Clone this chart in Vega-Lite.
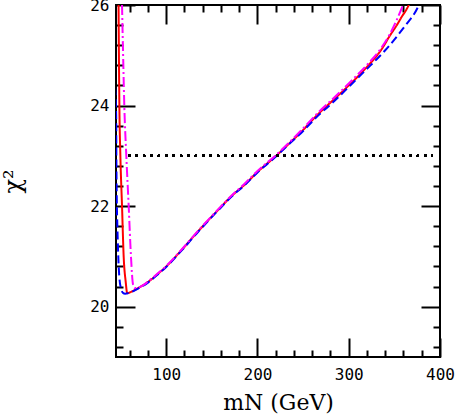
{
  "$schema": "https://vega.github.io/schema/vega-lite/v6.json",
  "width": 324,
  "height": 352,
  "autosize": {"type": "none"},
  "padding": {"left": 116, "top": 5, "right": 17, "bottom": 58},
  "config": {
    "view": {"stroke": "black", "strokeWidth": 2},
    "axis": {
      "domain": false,
      "grid": false,
      "tickColor": "black",
      "tickWidth": 2,
      "labelColor": "black",
      "labelFont": "DejaVu Sans Mono",
      "labelFontSize": 16,
      "titleFont": "DejaVu Serif",
      "titleFontSize": 22,
      "titleFontWeight": "normal",
      "titleColor": "black"
    }
  },
  "data": {
    "values": [
      {"s": "red", "i": 1, "x": 47.8, "y": 26.0},
      {"s": "red", "i": 2, "x": 48.2, "y": 25.0},
      {"s": "red", "i": 3, "x": 48.7, "y": 24.0},
      {"s": "red", "i": 4, "x": 49.8, "y": 23.0},
      {"s": "red", "i": 5, "x": 51.6, "y": 22.0},
      {"s": "red", "i": 6, "x": 53.4, "y": 21.0},
      {"s": "red", "i": 7, "x": 55.6, "y": 20.5},
      {"s": "red", "i": 8, "x": 57.3, "y": 20.27},
      {"s": "red", "i": 9, "x": 62.0, "y": 20.3},
      {"s": "red", "i": 10, "x": 70.0, "y": 20.38},
      {"s": "red", "i": 11, "x": 80.0, "y": 20.49},
      {"s": "red", "i": 12, "x": 90.0, "y": 20.64},
      {"s": "red", "i": 13, "x": 100.0, "y": 20.8},
      {"s": "red", "i": 14, "x": 117.0, "y": 21.13},
      {"s": "red", "i": 15, "x": 135.0, "y": 21.5},
      {"s": "red", "i": 16, "x": 154.0, "y": 21.87},
      {"s": "red", "i": 17, "x": 174.0, "y": 22.24},
      {"s": "red", "i": 18, "x": 185.0, "y": 22.41},
      {"s": "red", "i": 19, "x": 200.0, "y": 22.68},
      {"s": "red", "i": 20, "x": 220.5, "y": 23.0},
      {"s": "red", "i": 21, "x": 235.0, "y": 23.25},
      {"s": "red", "i": 22, "x": 247.0, "y": 23.46},
      {"s": "red", "i": 23, "x": 267.0, "y": 23.84},
      {"s": "red", "i": 24, "x": 283.0, "y": 24.11},
      {"s": "red", "i": 25, "x": 300.0, "y": 24.4},
      {"s": "red", "i": 26, "x": 320.0, "y": 24.77},
      {"s": "red", "i": 27, "x": 336.0, "y": 25.12},
      {"s": "red", "i": 28, "x": 345.4, "y": 25.4},
      {"s": "red", "i": 29, "x": 352.7, "y": 25.6},
      {"s": "red", "i": 30, "x": 358.2, "y": 25.77},
      {"s": "red", "i": 31, "x": 362.9, "y": 25.9},
      {"s": "red", "i": 32, "x": 366.6, "y": 26.03},

      {"s": "blue", "i": 1, "x": 43.0, "y": 24.6},
      {"s": "blue", "i": 2, "x": 45.2, "y": 23.8},
      {"s": "blue", "i": 3, "x": 45.4, "y": 23.0},
      {"s": "blue", "i": 4, "x": 45.8, "y": 22.2},
      {"s": "blue", "i": 5, "x": 46.5, "y": 21.6},
      {"s": "blue", "i": 6, "x": 47.5, "y": 21.0},
      {"s": "blue", "i": 7, "x": 48.6, "y": 20.6},
      {"s": "blue", "i": 8, "x": 50.5, "y": 20.36},
      {"s": "blue", "i": 9, "x": 52.5, "y": 20.28},
      {"s": "blue", "i": 10, "x": 55.0, "y": 20.26},
      {"s": "blue", "i": 11, "x": 60.0, "y": 20.28},
      {"s": "blue", "i": 12, "x": 70.0, "y": 20.37},
      {"s": "blue", "i": 13, "x": 80.0, "y": 20.48},
      {"s": "blue", "i": 14, "x": 90.0, "y": 20.63},
      {"s": "blue", "i": 15, "x": 100.0, "y": 20.79},
      {"s": "blue", "i": 16, "x": 117.0, "y": 21.12},
      {"s": "blue", "i": 17, "x": 135.0, "y": 21.49},
      {"s": "blue", "i": 18, "x": 154.0, "y": 21.86},
      {"s": "blue", "i": 19, "x": 174.0, "y": 22.23},
      {"s": "blue", "i": 20, "x": 185.0, "y": 22.4},
      {"s": "blue", "i": 21, "x": 200.0, "y": 22.67},
      {"s": "blue", "i": 22, "x": 220.5, "y": 22.99},
      {"s": "blue", "i": 23, "x": 235.0, "y": 23.24},
      {"s": "blue", "i": 24, "x": 247.0, "y": 23.44},
      {"s": "blue", "i": 25, "x": 267.0, "y": 23.81},
      {"s": "blue", "i": 26, "x": 283.0, "y": 24.07},
      {"s": "blue", "i": 27, "x": 300.0, "y": 24.37},
      {"s": "blue", "i": 28, "x": 320.0, "y": 24.73},
      {"s": "blue", "i": 29, "x": 330.0, "y": 24.91},
      {"s": "blue", "i": 30, "x": 340.0, "y": 25.1},
      {"s": "blue", "i": 31, "x": 350.0, "y": 25.31},
      {"s": "blue", "i": 32, "x": 356.0, "y": 25.45},
      {"s": "blue", "i": 33, "x": 365.0, "y": 25.66},
      {"s": "blue", "i": 34, "x": 372.0, "y": 25.83},
      {"s": "blue", "i": 35, "x": 377.0, "y": 26.0},

      {"s": "magenta", "i": 1, "x": 51.6, "y": 26.0},
      {"s": "magenta", "i": 2, "x": 52.8, "y": 25.0},
      {"s": "magenta", "i": 3, "x": 54.1, "y": 24.0},
      {"s": "magenta", "i": 4, "x": 56.3, "y": 23.0},
      {"s": "magenta", "i": 5, "x": 58.9, "y": 22.0},
      {"s": "magenta", "i": 6, "x": 61.4, "y": 21.0},
      {"s": "magenta", "i": 7, "x": 63.6, "y": 20.45},
      {"s": "magenta", "i": 8, "x": 66.0, "y": 20.37},
      {"s": "magenta", "i": 9, "x": 75.0, "y": 20.43},
      {"s": "magenta", "i": 10, "x": 80.0, "y": 20.5},
      {"s": "magenta", "i": 11, "x": 90.0, "y": 20.65},
      {"s": "magenta", "i": 12, "x": 100.0, "y": 20.81},
      {"s": "magenta", "i": 13, "x": 117.0, "y": 21.14},
      {"s": "magenta", "i": 14, "x": 135.0, "y": 21.51},
      {"s": "magenta", "i": 15, "x": 154.0, "y": 21.88},
      {"s": "magenta", "i": 16, "x": 174.0, "y": 22.25},
      {"s": "magenta", "i": 17, "x": 185.0, "y": 22.43},
      {"s": "magenta", "i": 18, "x": 200.0, "y": 22.7},
      {"s": "magenta", "i": 19, "x": 220.5, "y": 23.02},
      {"s": "magenta", "i": 20, "x": 235.0, "y": 23.27},
      {"s": "magenta", "i": 21, "x": 247.0, "y": 23.49},
      {"s": "magenta", "i": 22, "x": 267.0, "y": 23.87},
      {"s": "magenta", "i": 23, "x": 283.0, "y": 24.14},
      {"s": "magenta", "i": 24, "x": 300.0, "y": 24.44},
      {"s": "magenta", "i": 25, "x": 320.0, "y": 24.81},
      {"s": "magenta", "i": 26, "x": 335.0, "y": 25.13},
      {"s": "magenta", "i": 27, "x": 345.0, "y": 25.42},
      {"s": "magenta", "i": 28, "x": 353.0, "y": 25.72},
      {"s": "magenta", "i": 29, "x": 359.5, "y": 26.0}
    ]
  },
  "resolve": {"axis": {"x": "independent", "y": "independent"}},
  "layer": [
    {
      "mark": {"type": "line", "strokeWidth": 2, "clip": true, "interpolate": "monotone"},
      "encoding": {
        "x": {
          "field": "x", "type": "quantitative",
          "scale": {"domain": [45, 400], "nice": false, "zero": false},
          "axis": {
            "orient": "bottom",
            "title": "mN (GeV)",
            "values": [60, 80, 100, 120, 140, 160, 180, 200, 220, 240, 260, 280, 300, 320, 340, 360, 380, 400],
            "tickSize": {"condition": {"test": "datum.value % 100 === 0", "value": -19}, "value": -7},
            "labelExpr": "datum.value % 100 === 0 ? datum.label : ''",
            "labelPadding": 28,
            "labelFlush": false,
            "labelOverlap": false,
            "titlePadding": -2
          }
        },
        "y": {
          "field": "y", "type": "quantitative",
          "scale": {"domain": [19, 26], "nice": false, "zero": false},
          "axis": {
            "orient": "left",
            "title": "χ²",
            "values": [19.2, 19.6, 20, 20.4, 20.8, 21.2, 21.6, 22, 22.4, 22.8, 23.2, 23.6, 24, 24.4, 24.8, 25.2, 25.6, 26],
            "tickSize": {"condition": {"test": "abs(datum.value - round(datum.value / 2) * 2) < 0.01", "value": -19}, "value": -7},
            "labelExpr": "abs(datum.value - round(datum.value / 2) * 2) < 0.01 ? format(datum.value, 'd') : ''",
            "labelPadding": 26,
            "labelFlush": false,
            "labelOverlap": false,
            "titleFontSize": 24,
            "titlePadding": 64
          }
        },
        "order": {"field": "i", "type": "quantitative"},
        "color": {
          "field": "s", "type": "nominal", "legend": null,
          "scale": {"domain": ["red", "blue", "magenta"], "range": ["#ff0000", "#0000ff", "#ff00ff"]}
        },
        "strokeDash": {
          "field": "s", "type": "nominal", "legend": null,
          "scale": {"domain": ["red", "blue", "magenta"], "range": [[1, 0], [8, 4], [10, 3, 2, 3]]}
        }
      }
    },
    {
      "mark": {"type": "rule", "color": "black", "strokeWidth": 2, "strokeDash": [2, 5.4]},
      "encoding": {
        "x": {
          "datum": 58.5, "type": "quantitative",
          "axis": {
            "orient": "top",
            "title": null,
            "labels": false,
            "values": [60, 80, 100, 120, 140, 160, 180, 200, 220, 240, 260, 280, 300, 320, 340, 360, 380, 400],
            "tickSize": {"condition": {"test": "datum.value % 100 === 0", "value": -19}, "value": -7}
          }
        },
        "x2": {"datum": 392},
        "y": {
          "datum": 23, "type": "quantitative",
          "axis": {
            "orient": "right",
            "title": null,
            "labels": false,
            "values": [19.2, 19.6, 20, 20.4, 20.8, 21.2, 21.6, 22, 22.4, 22.8, 23.2, 23.6, 24, 24.4, 24.8, 25.2, 25.6, 26],
            "tickSize": {"condition": {"test": "abs(datum.value - round(datum.value / 2) * 2) < 0.01", "value": -19}, "value": -7}
          }
        }
      }
    }
  ]
}
